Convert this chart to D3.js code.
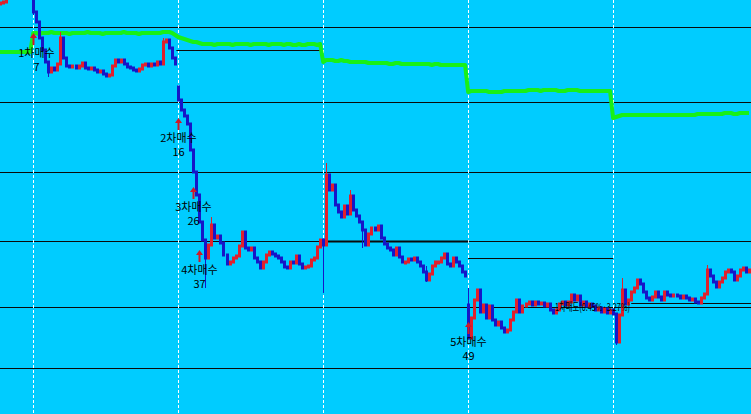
<!DOCTYPE html>
<html><head><meta charset="utf-8">
<script src="https://cdn.jsdelivr.net/npm/d3@7"></script>
<style>html,body{margin:0;padding:0;background:#00ccff;overflow:hidden}svg{display:block}</style>
</head><body>
<svg id="chart" width="751" height="414"></svg>
<script>
// ---- data (price units) ----
const closes = [
997,998,1008,1014,1020,1025,1022,1018,1012,1015,
1006,988,978,962,950,938,928,932,930,936,
962,942,934,933,934,932,934,937,932,931,
932,930,928,929,926,924,925,934,940,938,
940,936,933,932,930,929,931,935,936,934,
936,935,938,936,958,960,952,942,936,900,
890,884,876,850,828,805,778,760,742,755,
775,762,764,757,745,736,738,742,744,754,
768,752,750,752,742,738,732,738,745,748,
746,744,742,738,733,732,738,737,744,736,
732,733,734,740,742,753,760,755,825,810,
815,795,788,783,794,786,804,790,784,778,
770,755,766,772,770,774,762,756,752,750,
745,752,743,738,738,741,740,742,738,734,
728,720,726,734,738,738,742,746,736,734,
742,738,734,728,724,662,682,700,710,688,
695,682,694,680,675,678,672,668,670,680,
688,700,688,694,696,698,695,698,696,697,
694,696,690,687,690,696,698,695,698,705,
700,704,695,698,694,696,694,690,692,688,
691,687,690,686,658,685,710,696,700,708,
712,720,716,708,702,700,703,708,703,700,
708,705,704,705,704,702,704,702,700,701,
698,697,702,706,730,724,718,713,718,722,
728,730,728,720,724,730,732,728,730
];
const gapOpens = [[59, 913], [155, 695]];
const wicks = [[11,1005,985],[16,935,923],[20,968,936],[54,962,936],[68,760,712],[70,783,755],
  [107,760,707],[108,837,755],[116,810,786],[120,778,752],[141,734,718],[155,712,662],
  [204,686,655],[206,722,685],[234,735,706]];
const stopLine = [
948,948,948,948,948,948,948,948,948,948,
948,967,967,966,967,967,967,968,967,967,
967,967,967,966,967,967,967,967,967,968,
967,967,967,967,966,967,967,967,967,967,
967,968,967,967,967,967,966,967,967,967,
967,967,967,967,968,968,968,967,965,963,
962,961,960,959,958,958,957,956,956,956,
956,955,956,956,956,956,956,955,956,956,
956,956,956,955,956,956,956,956,956,955,
956,956,956,956,955,956,956,955,955,956,
955,955,956,956,956,955,956,938,940,940,
940,939,939,940,939,939,938,938,938,938,
938,938,937,937,937,937,937,937,937,936,
936,937,937,936,936,936,936,936,936,936,
936,936,936,935,936,936,935,935,935,935,
935,935,935,935,935,908,909,909,909,909,
909,909,908,908,908,908,908,909,909,909,
909,909,909,909,909,910,910,910,910,909,
910,910,910,910,910,909,909,909,910,910,
910,910,909,909,909,909,909,909,909,909,
909,909,909,882,883,884,885,885,885,885,
885,885,885,885,885,885,885,885,885,885,
885,885,885,885,885,885,885,885,885,885,
885,886,886,886,886,886,886,886,886,886,
887,887,887,886,886,887,887,887,887
];
const gridPrices = [973, 898, 828, 759, 693, 632];
const sessionBreaks = [11, 59, 107, 155, 203];
const levelSegments = [[58.4, 106.8, 950], [107, 155, 759], [155, 203, 742], [209, 249, 697]];
const buyIndex = [11, 59, 64, 66, 155];
const buyPrice = [967, 882, 813, 750, 678];
const buyNames = ["1차매수", "2차매수", "3차매수", "4차매수", "5차매수"];
const buyQty = ["7", "16", "26", "37", "49"];
const sellText = "1차매도(0.45%·3.27%)";

// ---- drawing ----
const W = 751, H = 414;
const svg = d3.select("#chart");
const x = d3.scaleLinear().domain([0, closes.length - 1]).range([0, 749]);
const y = d3.scaleLinear().domain([586, 1000]).range([H, 0]);
const RED = "#e0202c", BLUE = "#1616c8";
const FONT = "'Noto Sans CJK KR', sans-serif";

svg.append("rect").attr("width", W).attr("height", H).attr("fill", "#00ccff");

svg.append("g").selectAll("line").data(gridPrices).join("line")
  .attr("x1", 0).attr("x2", W)
  .attr("y1", d => Math.round(y(d)) + 0.5).attr("y2", d => Math.round(y(d)) + 0.5)
  .attr("stroke", "#0a0a0a").attr("stroke-width", 1);

svg.append("g").selectAll("line").data(sessionBreaks).join("line")
  .attr("x1", d => Math.round(x(d)) + 0.5).attr("x2", d => Math.round(x(d)) + 0.5)
  .attr("y1", 0).attr("y2", H)
  .attr("stroke", "#ffffff").attr("stroke-width", 1).attr("stroke-dasharray", "3,2");

svg.append("g").selectAll("line").data(levelSegments).join("line")
  .attr("x1", d => x(d[0])).attr("x2", d => Math.min(W, x(d[1])))
  .attr("y1", d => Math.round(y(d[2])) + 0.5).attr("y2", d => Math.round(y(d[2])) + 0.5)
  .attr("stroke", "#0a0a0a").attr("stroke-width", (d, i) => i === 1 ? 2 : 1);

svg.append("path").datum(stopLine)
  .attr("d", d3.line().x((d, i) => x(i)).y(d => y(d)))
  .attr("fill", "none").attr("stroke", "#18f018").attr("stroke-width", 4)
  .attr("stroke-linejoin", "round");

const gapMap = new Map(gapOpens);
const wickMap = new Map(wicks.map(w => [w[0], [w[1], w[2]]]));
const candles = closes.map((c, i) => {
  const o = gapMap.has(i) ? gapMap.get(i) : (i > 0 ? closes[i - 1] : c);
  const w = wickMap.get(i);
  return { i, o, c, hi: w ? w[0] : Math.max(o, c), lo: w ? w[1] : Math.min(o, c), up: c >= o };
});
const cg = svg.append("g");
cg.selectAll("line").data(candles).join("line")
  .attr("x1", d => Math.round(x(d.i)) + 0.5).attr("x2", d => Math.round(x(d.i)) + 0.5)
  .attr("y1", d => y(d.hi)).attr("y2", d => y(d.lo))
  .attr("stroke", d => d.up ? RED : BLUE).attr("stroke-width", 1);
cg.selectAll("rect").data(candles).join("rect")
  .attr("x", d => Math.round(x(d.i)) - 1).attr("width", 3)
  .attr("y", d => Math.min(y(d.o), y(d.c)) - 1.5)
  .attr("height", d => Math.max(4, Math.abs(y(d.o) - y(d.c)) + 3))
  .attr("fill", d => d.up ? RED : BLUE);

// buy arrows & labels
const bg = svg.append("g");
buyIndex.forEach((bi, k) => {
  const cx = Math.round(x(bi)) + 0.5, ty = y(buyPrice[k]);
  bg.append("line").attr("x1", cx).attr("x2", cx).attr("y1", ty + 4).attr("y2", ty + 12)
    .attr("stroke", "#d01828").attr("stroke-width", 2);
  bg.append("path").attr("d", `M${cx},${ty} L${cx - 3.5},${ty + 5} L${cx + 3.5},${ty + 5} Z`)
    .attr("fill", "#d01828");
  const lx = cx + (k === 0 ? 3 : 0);
  const t = bg.append("text").attr("text-anchor", "middle").attr("font-family", FONT)
    .attr("font-size", 11).attr("fill", "#000");
  t.append("tspan").attr("x", lx).attr("y", ty + 24).text(buyNames[k]);
  t.append("tspan").attr("x", lx).attr("y", ty + 38).text(buyQty[k]);
});

svg.append("text").attr("x", 555).attr("y", y(689))
  .attr("font-family", FONT).attr("font-size", 11)
  .attr("textLength", 75).attr("lengthAdjust", "spacingAndGlyphs")
  .attr("fill", "#000").text(sellText);
</script>
</body></html>
